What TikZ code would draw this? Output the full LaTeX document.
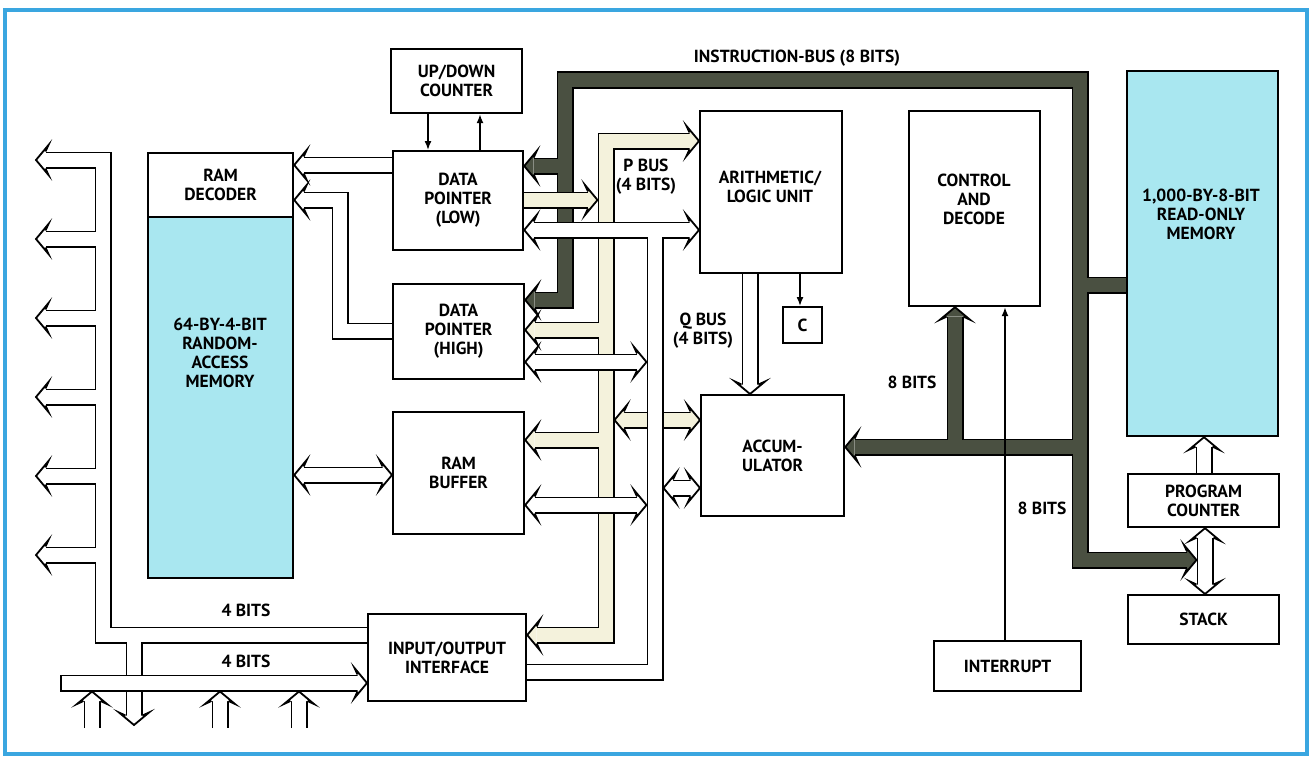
\documentclass[tikz,border=0pt]{standalone}
\usepackage{fontspec}
\setmainfont{PT Sans}
\usetikzlibrary{arrows.meta,calc}
\definecolor{frameblue}{HTML}{3AA6E0}
\definecolor{memcyan}{HTML}{A9E7F0}
\definecolor{pcream}{HTML}{F4F2DC}
\definecolor{darkbus}{HTML}{4A5041}
\newcommand{\lbl}{\fontsize{17.5}{19}\selectfont\bfseries}
\tikzset{
  blk/.style={draw=black, line width=2.2pt, fill=white, align=center, font=\lbl, inner sep=0pt, anchor=north west},
  txt/.style={align=center, font=\lbl, inner sep=0pt},
  bwall/.style={draw=black, line width=17pt, line join=miter, line cap=butt},
  bfill/.style={draw=#1, line width=13.4pt, line join=miter, line cap=butt},
  sig/.style={draw=black, line width=1.5pt, -{Latex[length=9pt,width=7pt]}},
  hh/.pic={\filldraw[fill=#1, draw=black, line width=1.8pt, line join=miter] (-9.5,8.5)--(-12.5,15)--(0,0)--(-12.5,-15)--(-9.5,-8.5);},
}
\newcommand{\bus}[2]{\draw[bwall] #2; \draw[bfill=#1] #2;}
\newcommand{\hd}[3]{\path (#1) pic[rotate=#2]{hh=#3};}
\begin{document}
\begin{tikzpicture}[x=1pt,y=-1pt]
\useasboundingbox (0,0) rectangle (1312,760);
\fill[white] (0,0) rectangle (1312,760);
\draw[frameblue, line width=3.5pt] (5,10) rectangle (1307,754);

% blocks
\node[blk, minimum width=145pt, minimum height=64pt] (ramdec) at (147,152) {RAM\\DECODER};
\node[blk, fill=memcyan, minimum width=145pt, minimum height=361pt] (ram) at (147,216) {};
\node[txt] (ramlbl) at (220,353) {64-BY-4-BIT\\RANDOM-\\ACCESS\\MEMORY};
\node[blk, minimum width=131pt, minimum height=64pt] (ud) at (390,48) {UP/DOWN\\COUNTER};
\node[blk, minimum width=130pt, minimum height=99pt] (dpl) at (392,150) {DATA\\POINTER\\(LOW)};
\node[blk, minimum width=131pt, minimum height=95pt] (dph) at (392,283) {DATA\\POINTER\\(HIGH)};
\node[blk, minimum width=131pt, minimum height=122pt] (rb) at (392,411) {RAM\\BUFFER};
\node[blk, minimum width=158pt, minimum height=87pt] (io) at (367,613) {INPUT/OUTPUT\\INTERFACE};
\node[blk, minimum width=142pt, minimum height=162pt] (alu) at (699,110) {};
\node[txt] (alulbl) at (770,187) {ARITHMETIC/\\LOGIC UNIT};
\node[blk, minimum width=39pt, minimum height=36pt] (cc) at (782,306) {C};
\node[blk, minimum width=143pt, minimum height=121pt] (acc) at (700,394) {ACCUM-\\ULATOR};
\node[blk, minimum width=131pt, minimum height=195pt] (ctl) at (908,110) {};
\node[txt] (ctllbl) at (974,199) {CONTROL\\AND\\DECODE};
\node[blk, minimum width=147pt, minimum height=50pt] (intr) at (933,640) {INTERRUPT};
\node[blk, fill=memcyan, minimum width=151pt, minimum height=365pt] (rom) at (1126,70) {};
\node[txt] (romlbl) at (1201,214) {1,000-BY-8-BIT\\READ-ONLY\\MEMORY};
\node[blk, minimum width=151pt, minimum height=53pt] (pc) at (1127,473) {PROGRAM\\COUNTER};
\node[blk, minimum width=151pt, minimum height=49pt] (stk) at (1127,594) {STACK};

% left output bus (white)
\bus{white}{(io.west|-0,635) -- (103,635) -- (103,160) -- (45.5,160)
  (103,239) -- (45.5,239) (103,318) -- (45.5,318) (103,397) -- (45.5,397)
  (103,476) -- (45.5,476) (103,555) -- (45.5,555) (134,635) -- (134,715.5)}
\foreach \yy in {160,239,318,397,476,555} {\hd{36,\yy}{180}{white}}
\hd{134,725}{-90}{white}
% input bus
\draw[bwall] (60.2,683) -- ($(io.west|-0,683)+(-9.5,0)$);
\draw[bfill=white] (62,683) -- ($(io.west|-0,683)+(-9.5,0)$);
\path (io.west|-0,683) pic{hh=white};
\bus{white}{(92,728) -- (92,701) (220,728) -- (220,701) (299,728) -- (299,701)}
\foreach \xx in {92,220,299} {\hd{\xx,691.5}{90}{white}}

% data pointers to RAM decoder, RAM buffer to RAM
\bus{white}{(dpl.west|-0,165) -- ($(ramdec.east|-0,165)+(9.5,0)$)}
\path (ramdec.east|-0,165) pic[rotate=180]{hh=white};
\bus{white}{(dph.west|-0,331) -- (340,331) -- (340,200) -- ($(ramdec.east|-0,200)+(9.5,0)$)}
\path (ramdec.east|-0,200) pic[rotate=180]{hh=white};
\bus{white}{($(ram.east|-0,475)+(9.5,0)$) -- ($(rb.west|-0,475)+(-9.5,0)$)}
\path (ram.east|-0,475) pic[rotate=180]{hh=white};
\path (rb.west|-0,475) pic{hh=white};

% instruction bus (dark)
\bus{darkbus}{($(dph.east|-0,300)+(9.5,0)$) -- (565,300) -- (565,80) -- (1080,80) -- (1080,560) -- (1187,560)
  (565,166) -- ($(dpl.east|-0,166)+(9.5,0)$)
  (1080,447) -- ($(acc.east|-0,447)+(9.5,0)$)
  (955,447) -- ($(ctl.south-|955,0)+(0,9.5)$)
  (1080,285) -- (rom.west|-0,285)}
\path (dph.east|-0,300) pic[rotate=180]{hh=darkbus};
\path (dpl.east|-0,166) pic[rotate=180]{hh=darkbus};
\path (acc.east|-0,447) pic[rotate=180]{hh=darkbus};
\path (ctl.south-|955,0) pic[rotate=90]{hh=darkbus};
\hd{1196.5,560}{0}{darkbus}

% P bus (cream)
\bus{pcream}{($(io.east|-0,635)+(9.5,0)$) -- (606,635) -- (606,141) -- ($(alu.west|-0,141)+(-9.5,0)$)
  (606,330) -- ($(dph.east|-0,330)+(9.5,0)$)
  (606,440) -- ($(rb.east|-0,440)+(9.5,0)$)}
\path (io.east|-0,635) pic[rotate=180]{hh=pcream};
\path (alu.west|-0,141) pic{hh=pcream};
\path (dph.east|-0,330) pic[rotate=180]{hh=pcream};
\path (rb.east|-0,440) pic[rotate=180]{hh=pcream};
\bus{pcream}{(dpl.east|-0,200) -- (588,200)}
\hd{597.5,200}{0}{pcream}
\bus{pcream}{(624,420) -- ($(acc.west|-0,420)+(-9.5,0)$)}
\hd{614.5,420}{180}{pcream}
\path (acc.west|-0,420) pic{hh=pcream};

% white data channel
\bus{white}{(io.east|-0,672) -- (655,672) -- (655,230)
  ($(dpl.east|-0,230)+(9.5,0)$) -- ($(alu.west|-0,230)+(-9.5,0)$)}
\path (dpl.east|-0,230) pic[rotate=180]{hh=white};
\path (alu.west|-0,230) pic{hh=white};
\bus{white}{($(dph.east|-0,362)+(9.5,0)$) -- (637,362)}
\path (dph.east|-0,362) pic[rotate=180]{hh=white};
\hd{646.5,362}{0}{white}
\bus{white}{($(rb.east|-0,505)+(9.5,0)$) -- (637,505)}
\path (rb.east|-0,505) pic[rotate=180]{hh=white};
\hd{646.5,505}{0}{white}
\bus{white}{(673,488) -- ($(acc.west|-0,488)+(-9.5,0)$)}
\hd{663.5,488}{180}{white}
\path (acc.west|-0,488) pic{hh=white};

% Q bus
\bus{white}{(alu.south-|750,0) -- ($(acc.north-|750,0)+(0,-9.5)$)}
\path (acc.north-|750,0) pic[rotate=-90]{hh=white};

% program counter
\bus{white}{(pc.north-|1204,0) -- ($(rom.south-|1204,0)+(0,9.5)$)}
\path (rom.south-|1204,0) pic[rotate=90]{hh=white};
\bus{white}{($(pc.south-|1205,0)+(0,9.5)$) -- ($(stk.north-|1205,0)+(0,-9.5)$)}
\path (pc.south-|1205,0) pic[rotate=90]{hh=white};
\path (stk.north-|1205,0) pic[rotate=-90]{hh=white};

% thin signal arrows
\draw[sig] (ud.south-|428,0) -- (dpl.north-|428,0);
\draw[sig] (dpl.north-|480,0) -- (ud.south-|480,0);
\draw[sig] (alu.south-|800,0) -- (cc.north-|800,0);
\draw[sig] (intr.north-|1005,0) -- (ctl.south-|1005,0);

% labels
\node[txt] (libus) at (797,58) {INSTRUCTION-BUS (8 BITS)};
\node[txt] (lpbus) at (646,177) {P BUS\\(4 BITS)};
\node[txt] (lqbus) at (703,331) {Q BUS\\(4 BITS)};
\node[txt] (l8a) at (912,382) {8 BITS};
\node[txt] (l8b) at (1042,508) {8 BITS};
\node[txt] (l4a) at (246,610) {4 BITS};
\node[txt] (l4b) at (246,661) {4 BITS};
\end{tikzpicture}
\end{document}
